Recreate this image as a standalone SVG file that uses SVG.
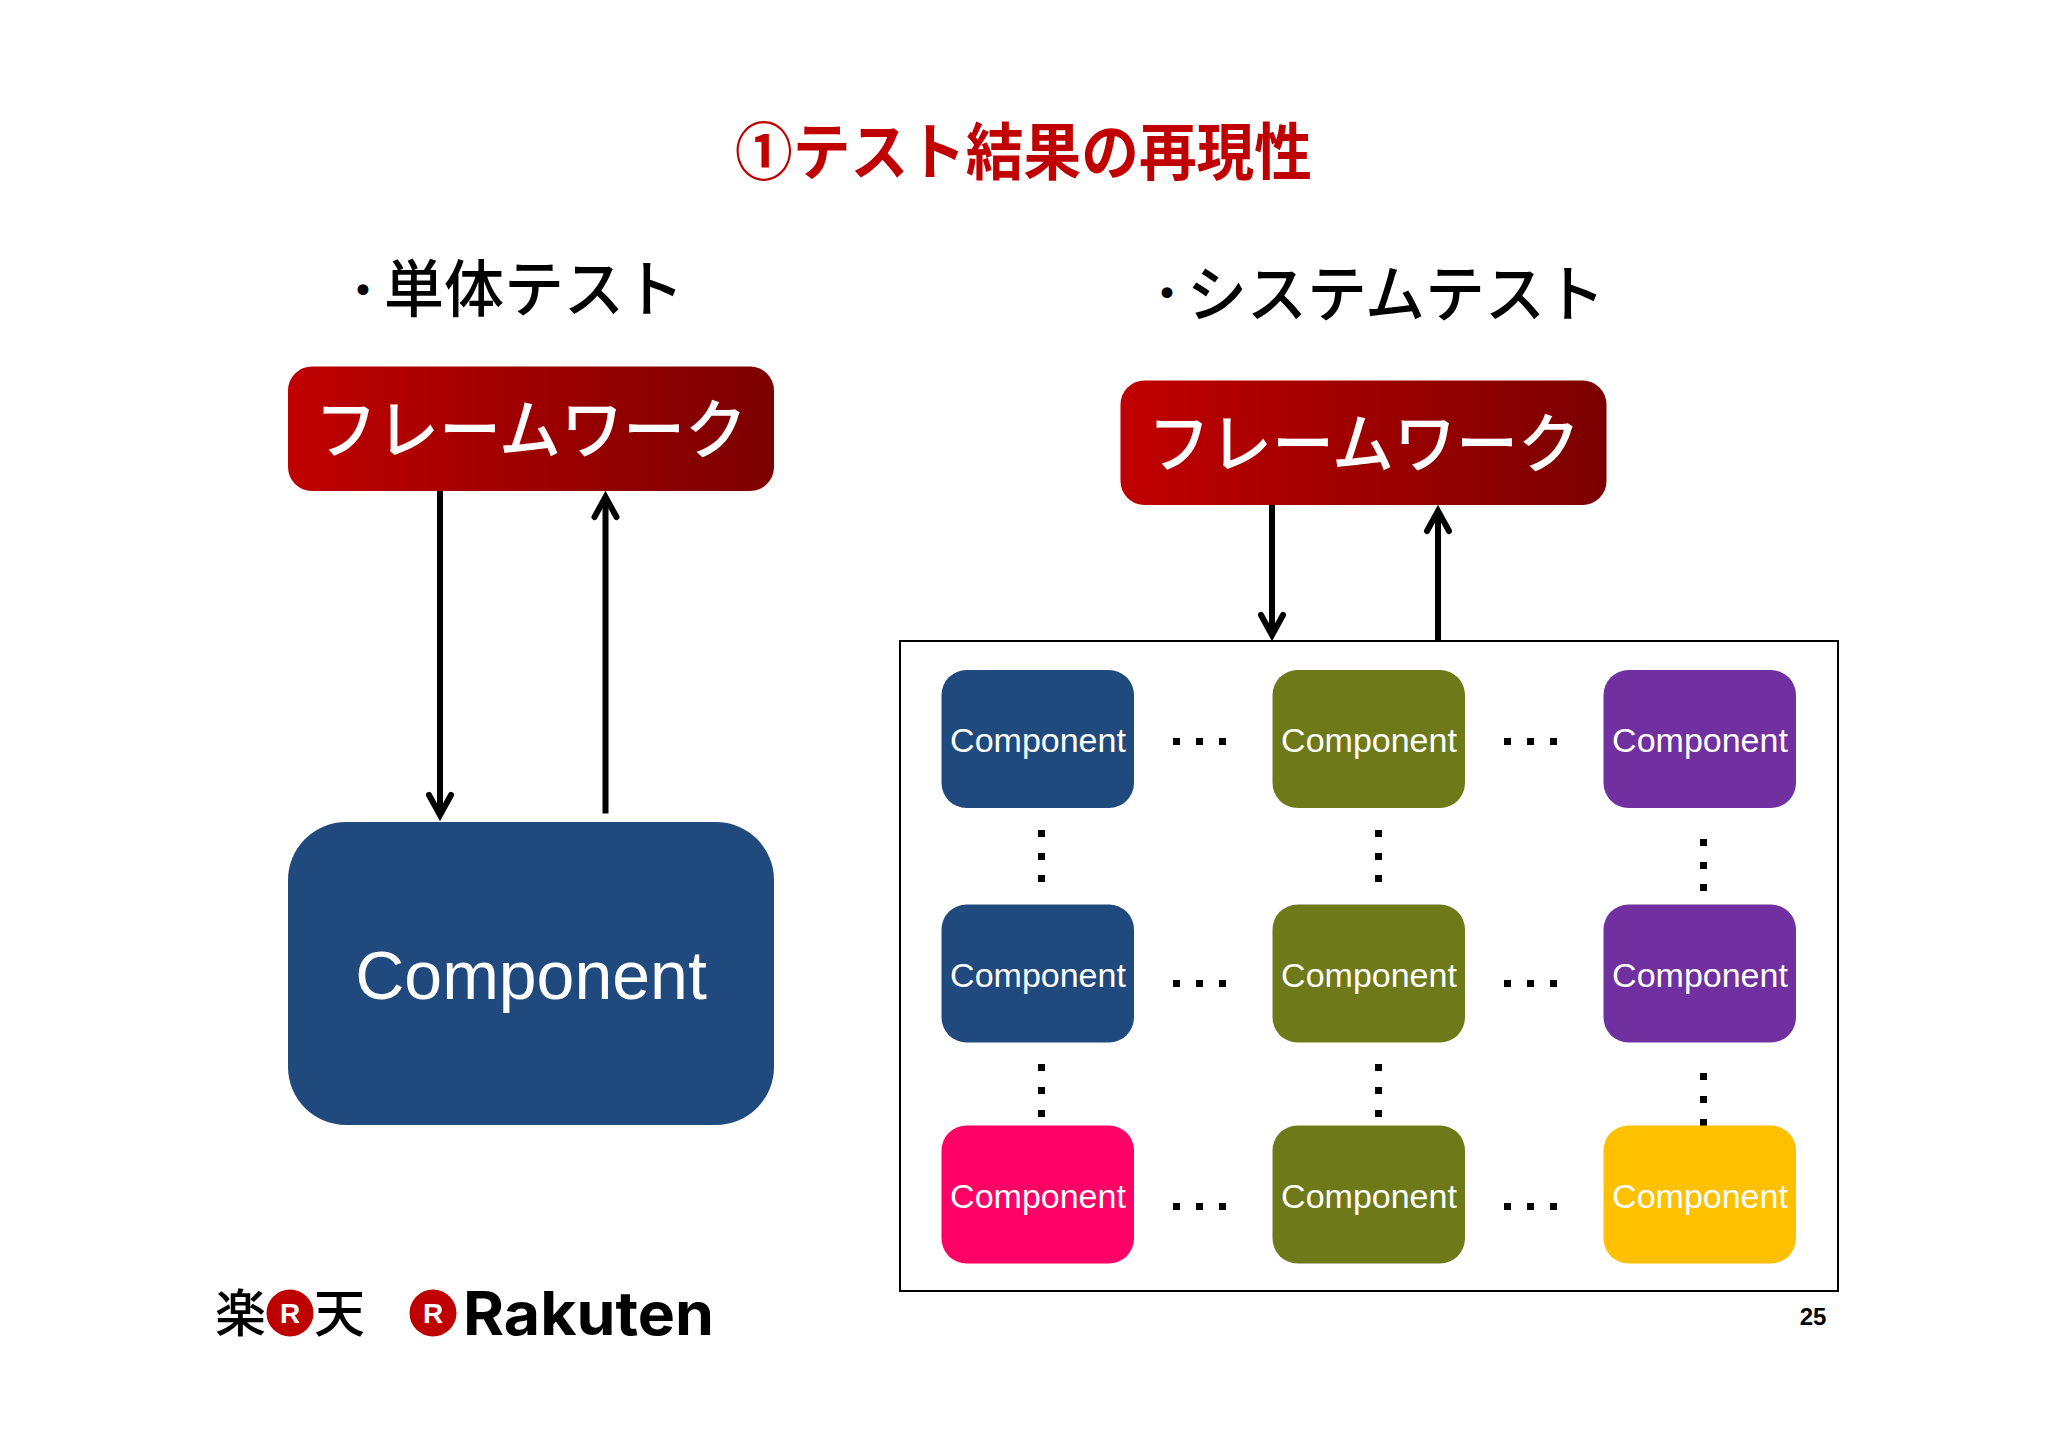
<svg xmlns="http://www.w3.org/2000/svg" width="2048" height="1448" viewBox="0 0 2048 1448">
<style>
.jp{font-family:"Noto Sans CJK JP","Noto Sans",sans-serif}
.fw{font-size:65px;fill:#fff;font-weight:500}
.hd{font-size:62px;fill:#000;font-weight:500}
.bu{font-size:40px;stroke:#000;stroke-width:1.500}
.c{font-family:"Liberation Sans",Arial,sans-serif;fill:#fff;font-size:34px;text-anchor:middle}
.wire{fill:none;stroke:#000;stroke-width:6}
.d{fill:#000}
.blue{fill:#204A7E}.olive{fill:#6E7A1A}.purple{fill:#7030A0}.pink{fill:#FF0066}.amber{fill:#FFC000}
</style>
<defs>
<linearGradient id="red" x1="0" y1="0" x2="1" y2="0"><stop offset="0" stop-color="#C00000"/><stop offset="1" stop-color="#7C0000"/></linearGradient>
<marker id="arrow" markerUnits="userSpaceOnUse" markerWidth="40" markerHeight="40" refX="0" refY="0" orient="auto" overflow="visible">
<path d="M-20,-11 L0,0 L-20,11" fill="none" stroke="#000" stroke-width="6" stroke-linecap="round"/>
</marker>
<rect id="dot" width="7" height="7" class="d"/>
</defs>
<rect width="2048" height="1448" fill="#fff"/>
<text id="title" class="jp" x="735" y="175" font-size="62" font-weight="700" fill="#C00000" textLength="577" lengthAdjust="spacingAndGlyphs">①テスト結果の再現性</text>
<text id="heading-unit" class="jp hd" y="312"><tspan class="bu" x="343" y="305">・</tspan><tspan x="384" y="312" textLength="300" lengthAdjust="spacingAndGlyphs">単体テスト</tspan></text>
<text id="heading-system" class="jp hd" y="317"><tspan class="bu" x="1147" y="308">・</tspan><tspan x="1187" y="317" textLength="418" lengthAdjust="spacingAndGlyphs">システムテスト</tspan></text>

<g id="frame"><rect x="900" y="641" width="938" height="650" fill="#fff" stroke="#000" stroke-width="2"/></g>

<g id="connectors">
<path class="wire" d="M440,491V815" marker-end="url(#arrow)"/>
<path class="wire" d="M605.500,813.500V497" marker-end="url(#arrow)"/>
<path class="wire" d="M1272,505V635" marker-end="url(#arrow)"/>
<path class="wire" d="M1438,641V511" marker-end="url(#arrow)"/>
</g>

<g id="framework-1"><rect x="288" y="366.500" width="486" height="124.500" rx="24" fill="url(#red)"/><text class="jp fw" x="315" y="453" textLength="432" lengthAdjust="spacingAndGlyphs">フレームワーク</text></g>
<g id="framework-2"><rect x="1120.500" y="380.500" width="486" height="124.500" rx="24" fill="url(#red)"/><text class="jp fw" x="1148" y="467" textLength="432" lengthAdjust="spacingAndGlyphs">フレームワーク</text></g>
<g id="component-main"><rect x="288" y="822" width="486" height="303" rx="58" class="blue"/><text class="c" x="531" y="999" style="font-size:68px">Component</text></g>

<g id="dots">
<use href="#dot" x="1173" y="738"/><use href="#dot" x="1196" y="738"/><use href="#dot" x="1219" y="738"/>
<use href="#dot" x="1504" y="738"/><use href="#dot" x="1527" y="738"/><use href="#dot" x="1550" y="738"/>
<use href="#dot" x="1173" y="980"/><use href="#dot" x="1196" y="980"/><use href="#dot" x="1219" y="980"/>
<use href="#dot" x="1504" y="980"/><use href="#dot" x="1527" y="980"/><use href="#dot" x="1550" y="980"/>
<use href="#dot" x="1173" y="1203"/><use href="#dot" x="1196" y="1203"/><use href="#dot" x="1219" y="1203"/>
<use href="#dot" x="1504" y="1203"/><use href="#dot" x="1527" y="1203"/><use href="#dot" x="1550" y="1203"/>
<use href="#dot" x="1038" y="830"/><use href="#dot" x="1038" y="853"/><use href="#dot" x="1038" y="875"/>
<use href="#dot" x="1375" y="830"/><use href="#dot" x="1375" y="853"/><use href="#dot" x="1375" y="875"/>
<use href="#dot" x="1700" y="839"/><use href="#dot" x="1700" y="862"/><use href="#dot" x="1700" y="884"/>
<use href="#dot" x="1038" y="1064"/><use href="#dot" x="1038" y="1087"/><use href="#dot" x="1038" y="1110"/>
<use href="#dot" x="1375" y="1064"/><use href="#dot" x="1375" y="1087"/><use href="#dot" x="1375" y="1110"/>
<use href="#dot" x="1700" y="1073"/><use href="#dot" x="1700" y="1096"/><use href="#dot" x="1700" y="1119"/>
</g>

<g id="c11"><rect x="941.500" y="670" width="192.500" height="138" rx="25" class="blue"/><text class="c" x="1038" y="752">Component</text></g>
<g id="c12"><rect x="1272.500" y="670" width="192.500" height="138" rx="25" class="olive"/><text class="c" x="1369" y="752">Component</text></g>
<g id="c13"><rect x="1603.500" y="670" width="192.500" height="138" rx="25" class="purple"/><text class="c" x="1700" y="752">Component</text></g>
<g id="c21"><rect x="941.500" y="904.500" width="192.500" height="138" rx="25" class="blue"/><text class="c" x="1038" y="987">Component</text></g>
<g id="c22"><rect x="1272.500" y="904.500" width="192.500" height="138" rx="25" class="olive"/><text class="c" x="1369" y="987">Component</text></g>
<g id="c23"><rect x="1603.500" y="904.500" width="192.500" height="138" rx="25" class="purple"/><text class="c" x="1700" y="987">Component</text></g>
<g id="c31"><rect x="941.500" y="1125.500" width="192.500" height="138" rx="25" class="pink"/><text class="c" x="1038" y="1208">Component</text></g>
<g id="c32"><rect x="1272.500" y="1125.500" width="192.500" height="138" rx="25" class="olive"/><text class="c" x="1369" y="1208">Component</text></g>
<g id="c33"><rect x="1603.500" y="1125.500" width="192.500" height="138" rx="25" class="amber"/><text class="c" x="1700" y="1208">Component</text></g>

<text id="page" x="1813" y="1325" font-family="'Liberation Sans',Arial,sans-serif" font-weight="700" font-size="24" fill="#000" text-anchor="middle">25</text>

<g id="logo-jp">
<text class="jp" x="215" y="1332" font-size="51" font-weight="500" fill="#000">楽</text>
<circle cx="290" cy="1313" r="23.500" fill="#BF0000"/>
<text x="290" y="1323" font-family="'Liberation Sans',Arial,sans-serif" font-weight="700" font-size="28" fill="#fff" text-anchor="middle">R</text>
<text class="jp" x="314" y="1332" font-size="51" font-weight="500" fill="#000">天</text>
</g>
<g id="logo-en">
<circle cx="433" cy="1313" r="23.500" fill="#BF0000"/>
<text x="433" y="1323" font-family="'Liberation Sans',Arial,sans-serif" font-weight="700" font-size="28" fill="#fff" text-anchor="middle">R</text>
<text x="463" y="1335" font-family="Inter,'Noto Sans',sans-serif" font-weight="700" font-size="60" fill="#000" textLength="251" lengthAdjust="spacingAndGlyphs">Rakuten</text>
</g>
</svg>
